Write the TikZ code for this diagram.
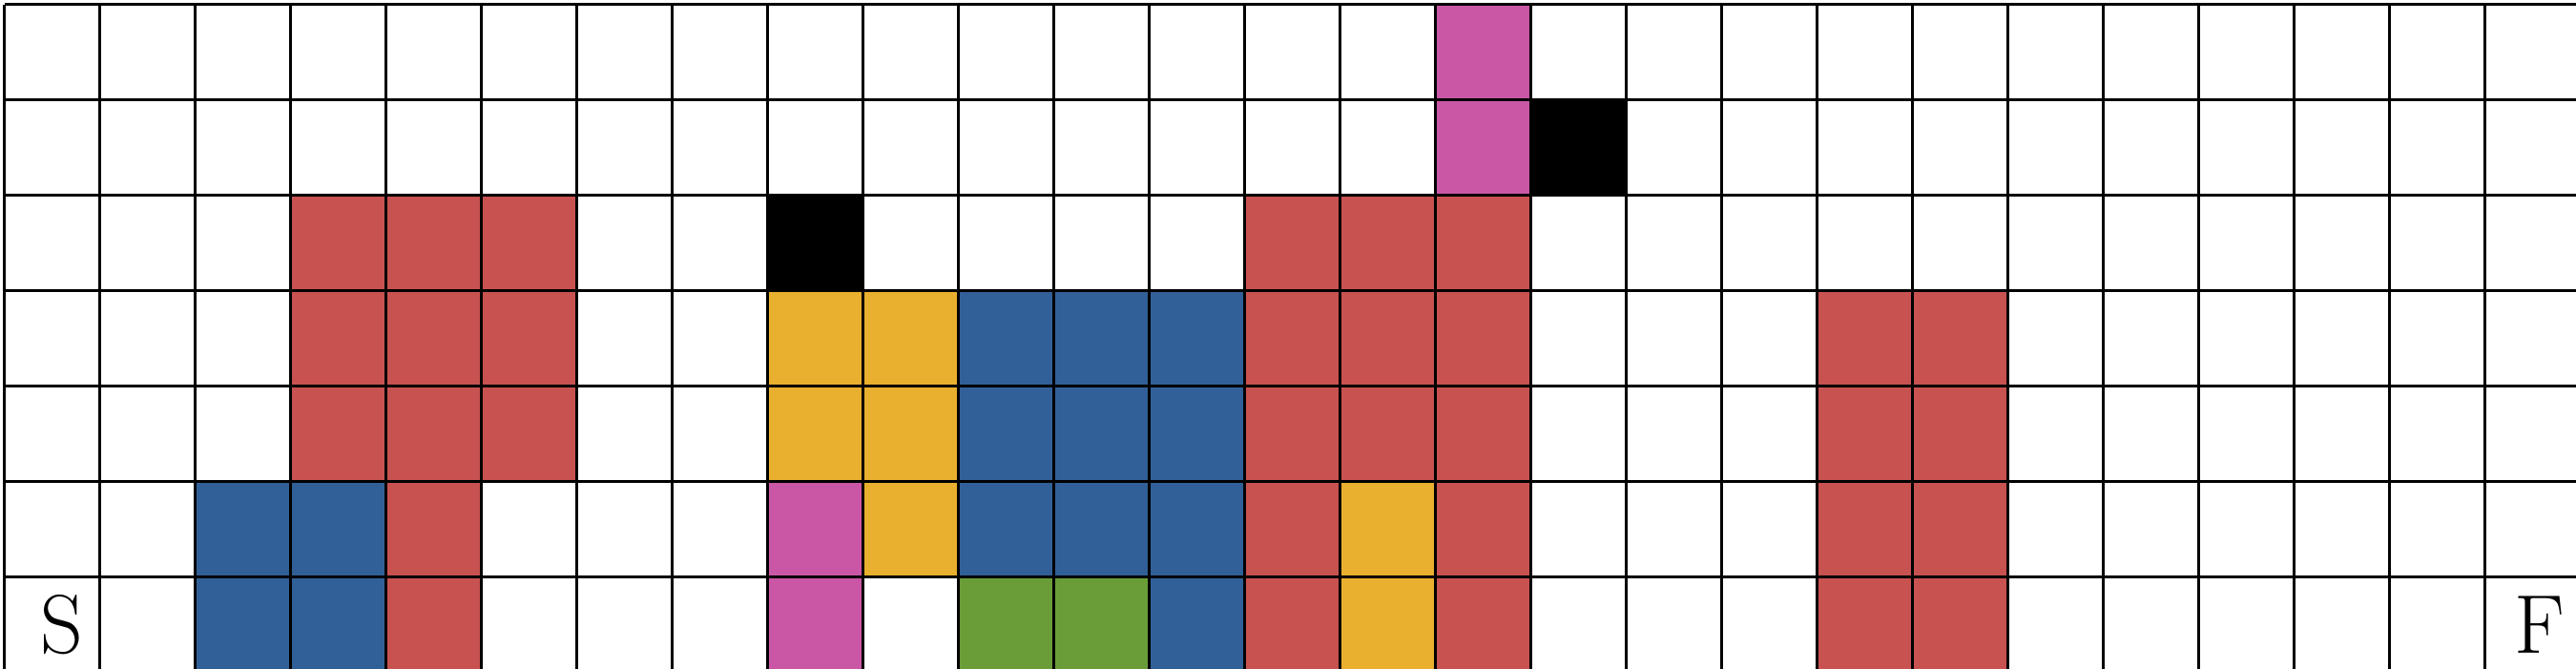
\documentclass[tikz,border=0pt]{standalone}
\definecolor{cred}{RGB}{200,82,80}
\definecolor{cblue}{RGB}{49,96,152}
\definecolor{cyellow}{RGB}{233,175,46}
\definecolor{cgreen}{RGB}{106,157,56}
\definecolor{cpink}{RGB}{201,87,165}
\begin{document}
\begin{tikzpicture}[x=1cm,y=1cm,
  gridline/.style={line width=0.85pt,black},
  lbl/.style={font=\Huge,inner sep=0pt}]
\useasboundingbox (-0.045,0.045) rectangle (26.955,7.045);
% cells given as column/row-from-top
\foreach \c/\r in {15/0,15/1,8/5,8/6}{\fill[cpink] (\c,6-\r) rectangle ++(1,1);}
\foreach \c/\r in {16/1,8/2}{\fill[black] (\c,6-\r) rectangle ++(1,1);}
\foreach \c/\r in {3/2,4/2,5/2,13/2,14/2,15/2,
  3/3,4/3,5/3,13/3,14/3,15/3,19/3,20/3,
  3/4,4/4,5/4,13/4,14/4,15/4,19/4,20/4,
  4/5,13/5,15/5,19/5,20/5,
  4/6,13/6,15/6,19/6,20/6}{\fill[cred] (\c,6-\r) rectangle ++(1,1);}
\foreach \c/\r in {8/3,9/3,8/4,9/4,9/5,14/5,14/6}{\fill[cyellow] (\c,6-\r) rectangle ++(1,1);}
\foreach \c/\r in {10/3,11/3,12/3,10/4,11/4,12/4,2/5,3/5,10/5,11/5,12/5,2/6,3/6,12/6}{\fill[cblue] (\c,6-\r) rectangle ++(1,1);}
\foreach \c/\r in {10/6,11/6}{\fill[cgreen] (\c,6-\r) rectangle ++(1,1);}
\draw[gridline] (0,0) grid (27,7);
\node[lbl] (start) at (0.6,0.5) {S};
\node[lbl] (finish) at (26.57,0.5) {F};
\end{tikzpicture}
\end{document}
